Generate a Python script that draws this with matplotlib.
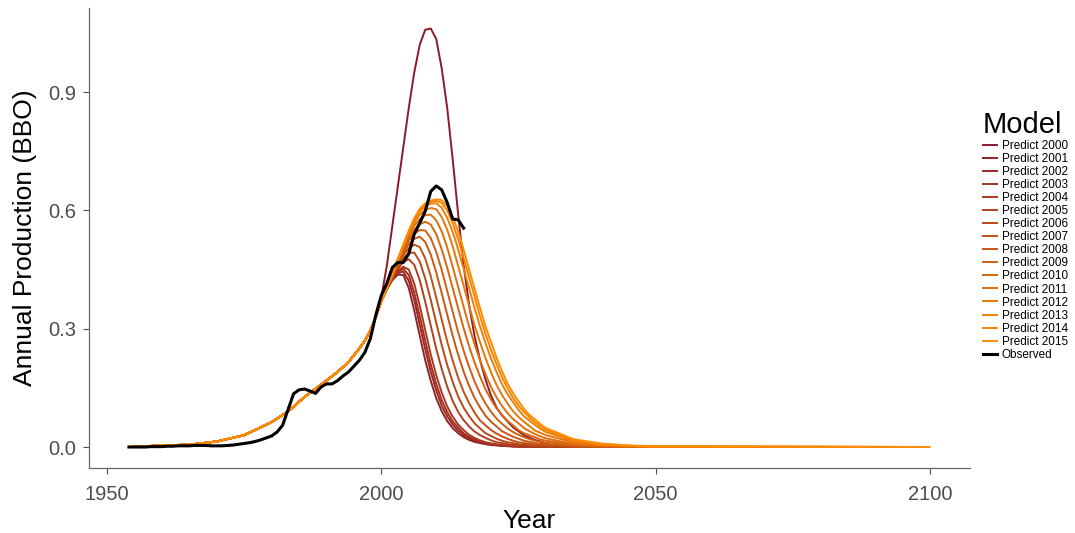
import matplotlib
matplotlib.use("Agg")
import matplotlib.pyplot as plt
from matplotlib.colors import LinearSegmentedColormap
from matplotlib.lines import Line2D

plt.rcParams['font.family'] = ['Liberation Sans', 'DejaVu Sans']

# observed annual production, billion barrels
obs_years = list(range(1954, 2016))
obs_prod = [0.000, 0.000, 0.000, 0.000, 0.001, 0.001, 0.001, 0.002, 0.002, 0.003,
            0.003, 0.003, 0.004, 0.004, 0.004, 0.003, 0.003, 0.003, 0.004, 0.005,
            0.007, 0.009, 0.011, 0.014, 0.018, 0.023, 0.028, 0.038, 0.055, 0.095,
            0.135, 0.145, 0.147, 0.142, 0.136, 0.152, 0.160, 0.160, 0.168, 0.180,
            0.190, 0.205, 0.220, 0.240, 0.275, 0.335, 0.385, 0.415, 0.455, 0.468,
            0.468, 0.490, 0.540, 0.568, 0.598, 0.648, 0.662, 0.652, 0.620, 0.578,
            0.576, 0.555]

# early part shared by all model runs
rise_years = [1954, 1960, 1965, 1970, 1975, 1980, 1983, 1986, 1989, 1992,
              1994, 1996, 1997, 1998, 1999]
rise_prod = [0.000, 0.004, 0.006, 0.014, 0.030, 0.063, 0.090, 0.127, 0.158, 0.190,
             0.215, 0.250, 0.270, 0.295, 0.330]

# model output from 2000 on
fit_years = list(range(2000, 2031)) + [2035, 2040, 2045, 2050, 2100]

predict_2000 = [0.380, 0.460, 0.560, 0.660, 0.760, 0.860, 0.950, 1.020, 1.058, 1.061,
                1.035, 0.960, 0.860, 0.730, 0.590, 0.460, 0.360, 0.280, 0.220, 0.170,
                0.130, 0.100, 0.080, 0.065, 0.050, 0.040, 0.030, 0.024, 0.018, 0.014,
                0.010, 0.003, 0.001, 0.000, 0.000, 0.000]
predict_2001 = [0.370, 0.400, 0.423, 0.437, 0.436, 0.403, 0.346, 0.282, 0.220, 0.168,
                0.124, 0.091, 0.066, 0.048, 0.035, 0.025, 0.018, 0.013, 0.010, 0.007,
                0.005, 0.004, 0.003, 0.002, 0.001, 0.001, 0.001, 0.001, 0.000, 0.000,
                0.000, 0.000, 0.000, 0.000, 0.000, 0.000]
predict_2002 = [0.370, 0.400, 0.425, 0.441, 0.445, 0.421, 0.373, 0.310, 0.248, 0.191,
                0.144, 0.105, 0.078, 0.057, 0.042, 0.030, 0.022, 0.016, 0.012, 0.008,
                0.006, 0.005, 0.003, 0.003, 0.002, 0.001, 0.001, 0.001, 0.001, 0.000,
                0.000, 0.000, 0.000, 0.000, 0.000, 0.000]
predict_2003 = [0.370, 0.400, 0.426, 0.444, 0.452, 0.436, 0.391, 0.331, 0.269, 0.210,
                0.160, 0.119, 0.089, 0.065, 0.049, 0.035, 0.026, 0.019, 0.014, 0.010,
                0.008, 0.005, 0.004, 0.003, 0.002, 0.002, 0.001, 0.001, 0.001, 0.001,
                0.000, 0.000, 0.000, 0.000, 0.000, 0.000]
predict_2004 = [0.370, 0.400, 0.427, 0.447, 0.457, 0.450, 0.414, 0.358, 0.296, 0.235,
                0.182, 0.138, 0.103, 0.077, 0.057, 0.043, 0.031, 0.023, 0.017, 0.012,
                0.009, 0.007, 0.005, 0.004, 0.003, 0.002, 0.002, 0.001, 0.001, 0.001,
                0.000, 0.000, 0.000, 0.000, 0.000, 0.000]
predict_2005 = [0.370, 0.400, 0.428, 0.452, 0.469, 0.476, 0.462, 0.423, 0.368, 0.308,
                0.249, 0.198, 0.153, 0.117, 0.089, 0.068, 0.052, 0.039, 0.030, 0.023,
                0.017, 0.012, 0.010, 0.007, 0.006, 0.004, 0.003, 0.002, 0.002, 0.001,
                0.001, 0.000, 0.000, 0.000, 0.000, 0.000]
predict_2006 = [0.370, 0.400, 0.430, 0.457, 0.479, 0.492, 0.493, 0.470, 0.427, 0.373,
                0.315, 0.259, 0.208, 0.165, 0.128, 0.100, 0.078, 0.060, 0.047, 0.035,
                0.028, 0.021, 0.016, 0.012, 0.010, 0.007, 0.006, 0.005, 0.003, 0.003,
                0.002, 0.001, 0.000, 0.000, 0.000, 0.000]
predict_2007 = [0.370, 0.400, 0.431, 0.461, 0.486, 0.504, 0.513, 0.507, 0.478, 0.433,
                0.379, 0.323, 0.268, 0.219, 0.176, 0.140, 0.111, 0.087, 0.067, 0.055,
                0.043, 0.034, 0.027, 0.021, 0.016, 0.012, 0.010, 0.008, 0.006, 0.005,
                0.004, 0.001, 0.000, 0.000, 0.000, 0.000]
predict_2008 = [0.370, 0.401, 0.433, 0.464, 0.492, 0.514, 0.528, 0.533, 0.520, 0.488,
                0.443, 0.390, 0.336, 0.282, 0.234, 0.191, 0.155, 0.124, 0.100, 0.079,
                0.064, 0.052, 0.040, 0.033, 0.026, 0.021, 0.016, 0.013, 0.010, 0.008,
                0.007, 0.002, 0.001, 0.000, 0.000, 0.000]
predict_2009 = [0.370, 0.401, 0.434, 0.467, 0.497, 0.523, 0.541, 0.550, 0.549, 0.530,
                0.495, 0.449, 0.396, 0.343, 0.291, 0.244, 0.203, 0.166, 0.135, 0.110,
                0.089, 0.072, 0.059, 0.047, 0.038, 0.031, 0.025, 0.020, 0.016, 0.013,
                0.010, 0.004, 0.001, 0.001, 0.000, 0.000]
predict_2010 = [0.370, 0.402, 0.436, 0.470, 0.502, 0.530, 0.551, 0.565, 0.571, 0.564,
                0.540, 0.501, 0.455, 0.403, 0.352, 0.301, 0.255, 0.214, 0.178, 0.146,
                0.120, 0.098, 0.081, 0.066, 0.055, 0.043, 0.035, 0.030, 0.025, 0.019,
                0.016, 0.006, 0.002, 0.001, 0.000, 0.000]
predict_2011 = [0.370, 0.402, 0.437, 0.472, 0.506, 0.537, 0.561, 0.578, 0.588, 0.589,
                0.575, 0.547, 0.506, 0.457, 0.406, 0.355, 0.305, 0.260, 0.219, 0.184,
                0.152, 0.126, 0.104, 0.086, 0.071, 0.060, 0.048, 0.040, 0.033, 0.027,
                0.022, 0.008, 0.003, 0.001, 0.001, 0.000]
predict_2012 = [0.370, 0.402, 0.438, 0.474, 0.509, 0.542, 0.569, 0.589, 0.601, 0.606,
                0.603, 0.583, 0.551, 0.509, 0.459, 0.409, 0.358, 0.308, 0.265, 0.225,
                0.189, 0.157, 0.132, 0.110, 0.091, 0.076, 0.064, 0.053, 0.042, 0.036,
                0.030, 0.012, 0.005, 0.002, 0.001, 0.000]
predict_2013 = [0.370, 0.402, 0.438, 0.475, 0.511, 0.545, 0.575, 0.597, 0.610, 0.617,
                0.618, 0.607, 0.581, 0.546, 0.501, 0.452, 0.402, 0.352, 0.305, 0.263,
                0.224, 0.190, 0.159, 0.134, 0.114, 0.094, 0.078, 0.067, 0.056, 0.046,
                0.038, 0.015, 0.006, 0.003, 0.001, 0.000]
predict_2014 = [0.370, 0.402, 0.438, 0.476, 0.512, 0.547, 0.578, 0.601, 0.615, 0.622,
                0.624, 0.619, 0.600, 0.568, 0.527, 0.479, 0.430, 0.381, 0.331, 0.286,
                0.246, 0.210, 0.177, 0.149, 0.125, 0.105, 0.089, 0.075, 0.063, 0.052,
                0.043, 0.018, 0.008, 0.003, 0.001, 0.000]
predict_2015 = [0.370, 0.402, 0.438, 0.476, 0.513, 0.548, 0.580, 0.604, 0.618, 0.625,
                0.628, 0.626, 0.611, 0.584, 0.546, 0.500, 0.450, 0.401, 0.352, 0.305,
                0.266, 0.226, 0.192, 0.161, 0.137, 0.116, 0.097, 0.081, 0.070, 0.058,
                0.048, 0.020, 0.009, 0.004, 0.002, 0.000]

predictions = [predict_2000, predict_2001, predict_2002, predict_2003, predict_2004,
               predict_2005, predict_2006, predict_2007, predict_2008, predict_2009,
               predict_2010, predict_2011, predict_2012, predict_2013, predict_2014,
               predict_2015]
labels = ["Predict %d" % y for y in range(2000, 2016)]

cmap = LinearSegmentedColormap.from_list("redorange", ["#8B1A2A", "#FF8C00"])
colors = [cmap(i / (len(predictions) - 1)) for i in range(len(predictions))]

fig = plt.figure(figsize=(10.75, 5.33), dpi=100)
ax = fig.add_axes([0.0827, 0.1221, 0.8197, 0.8636])

years = rise_years + fit_years
for vals, col in zip(predictions, colors):
    ax.plot(years, rise_prod + vals, color=col, lw=1.4, solid_capstyle='butt')
ax.plot(obs_years, obs_prod, color='black', lw=2.2)

ax.set_xlim(1946.7, 2107.3)
ax.set_ylim(-0.053, 1.114)
ax.set_xticks([1950, 2000, 2050, 2100])
ax.set_yticks([0.0, 0.3, 0.6, 0.9])
ax.set_yticklabels(["0.0", "0.3", "0.6", "0.9"])
ax.tick_params(labelsize=14.5, colors='#4D4D4D', length=4, width=0.8)
ax.tick_params(axis='x', pad=8)
ax.tick_params(axis='y', pad=5)

for side in ['top', 'right']:
    ax.spines[side].set_visible(False)
for side in ['left', 'bottom']:
    ax.spines[side].set_color('#666666')
    ax.spines[side].set_linewidth(0.9)

ax.set_xlabel("Year", fontsize=19, labelpad=4)
ax.set_ylabel("Annual Production (BBO)", fontsize=19, labelpad=8)

# legend
handles = [Line2D([], [], color=c, lw=1.4) for c in colors]
handles.append(Line2D([], [], color='black', lw=2.2))
leg = fig.legend(handles, labels + ["Observed"], loc='upper left',
                 bbox_to_anchor=(0.910, 0.801), frameon=False, fontsize=8.5,
                 title="Model", title_fontsize=21, handlelength=1.2,
                 handletextpad=0.4, labelspacing=0.09, borderaxespad=0)
leg._legend_box.align = "left"

fig.savefig("out.png", dpi=100)
